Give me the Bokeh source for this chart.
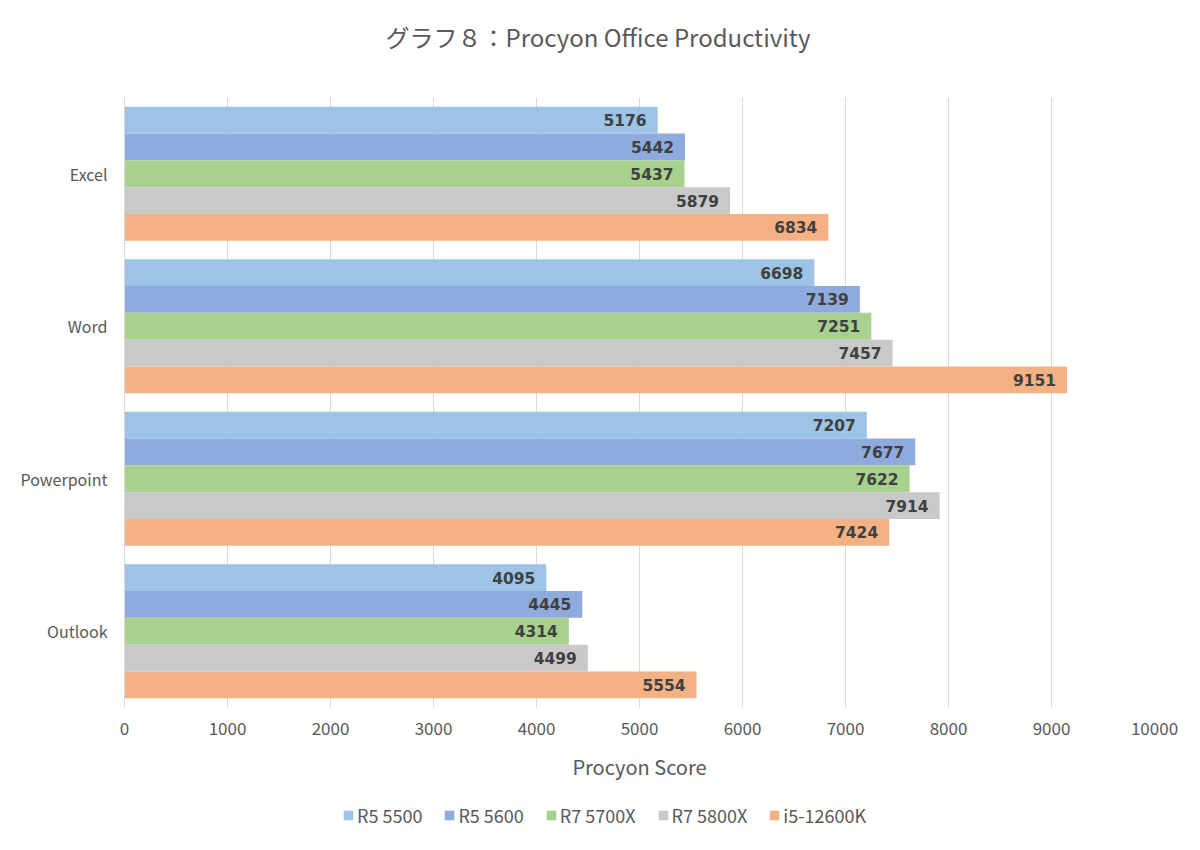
from bokeh.plotting import figure
from bokeh.layouts import column
from bokeh.models import ColumnDataSource, FactorRange, Range1d, Legend, LegendItem, FixedTicker, Label
from bokeh.transform import dodge
from bokeh.core.properties import value
from bokeh.embed import file_html
from bokeh.resources import INLINE

categories = ["Excel", "Word", "Powerpoint", "Outlook"]
series = ["R5 5500", "R5 5600", "R7 5700X", "R7 5800X", "i5-12600K"]
colors = ["#9DC3E6", "#8FAADC", "#A9D18E", "#C9C9C9", "#F4B183"]
r5_5500 = [5176, 6698, 7207, 4095]
r5_5600 = [5442, 7139, 7677, 4445]
r7_5700x = [5437, 7251, 7622, 4314]
r7_5800x = [5879, 7457, 7914, 4499]
i5_12600k = [6834, 9151, 7424, 5554]
x_ticks = [0, 1000, 2000, 3000, 4000, 5000, 6000, 7000, 8000, 9000, 10000]
title_text = "グラフ８：Procyon Office Productivity"
x_title = "Procyon Score"

values = [r5_5500, r5_5600, r7_5700x, r7_5800x, i5_12600k]
keys = ["s0", "s1", "s2", "s3", "s4"]
data = {"cat": categories}
for k, v in zip(keys, values):
    data[k] = v
    data[k + "_lbl"] = [str(x) for x in v]
src = ColumnDataSource(data)

JP = "Noto Sans CJK JP"
GRAY = "#595959"
W = 1184
HEAD_H = 97
LEG_H = 32
FRAME_L = 124
FRAME_W = 1030


def strip(h):
    # column layouts align frames, so the strip's frame spans the chart's frame columns
    f = figure(width=W, height=h, x_range=Range1d(FRAME_L, FRAME_L + FRAME_W),
               y_range=Range1d(0, h), min_border_left=FRAME_L,
               min_border_right=W - FRAME_L - FRAME_W, min_border_top=0,
               min_border_bottom=0, x_axis_location=None, y_axis_location=None,
               output_backend="svg", toolbar_location=None)
    f.grid.visible = False
    f.outline_line_color = None
    f.background_fill_color = "white"
    f.border_fill_color = "white"
    return f


# title strip
head = strip(HEAD_H)
head.add_layout(Label(x=597.5, y=HEAD_H - 36, text=title_text, text_align="center",
                      text_baseline="middle", text_font=JP, text_font_size="24px",
                      text_color=GRAY))

# main chart
p = figure(
    y_range=FactorRange(*reversed(categories)),
    x_range=Range1d(0, 10000),
    frame_width=FRAME_W, frame_height=610,
    min_border_left=FRAME_L, min_border_right=W - FRAME_L - FRAME_W,
    min_border_top=0, min_border_bottom=95,
    output_backend="svg", toolbar_location=None,
)
p.outline_line_color = None
p.background_fill_color = "white"
p.border_fill_color = "white"

bar_h = 0.176
for i, (k, col) in enumerate(zip(keys, colors)):
    off = 2 * bar_h - bar_h * i
    p.hbar(y=dodge("cat", off, range=p.y_range), left=0, right=k, height=bar_h,
           source=src, fill_color=col, line_color=None)
    p.text(x=k, y=dodge("cat", off, range=p.y_range), text=k + "_lbl", source=src,
           x_offset=-11, text_align="right", text_baseline="middle",
           text_font=value("DejaVu Sans"), text_font_style="bold",
           text_font_size="15.5px", text_color="#404040")

p.xaxis.ticker = FixedTicker(ticks=x_ticks)
p.xgrid.grid_line_color = "#D9D9D9"
p.xgrid.ticker = FixedTicker(ticks=x_ticks)
p.ygrid.grid_line_color = None
p.xaxis.axis_line_color = None
p.xaxis.major_tick_line_color = None
p.xaxis.minor_tick_line_color = None
p.xaxis.major_label_text_font = JP
p.xaxis.major_label_text_font_size = "17px"
p.xaxis.major_label_text_color = GRAY
p.xaxis.major_label_standoff = 8
p.xaxis.axis_label = x_title
p.xaxis.axis_label_text_font = JP
p.xaxis.axis_label_text_font_size = "20px"
p.xaxis.axis_label_text_font_style = "normal"
p.xaxis.axis_label_text_color = GRAY
p.xaxis.axis_label_standoff = 14

p.yaxis.axis_line_color = "#D9D9D9"
p.yaxis.major_tick_line_color = None
p.yaxis.minor_tick_line_color = None
p.yaxis.major_label_text_font = JP
p.yaxis.major_label_text_font_size = "16px"
p.yaxis.major_label_text_color = GRAY
p.yaxis.major_label_standoff = 11

# legend strip (swatches come from off-screen proxy bars)
leg = strip(LEG_H)
items = []
for name, col in zip(series, colors):
    r = leg.hbar(y=[-1000], left=[0], right=[1], height=1, fill_color=col, line_color=None)
    items.append(LegendItem(label=name, renderers=[r]))
legend = Legend(items=items, orientation="horizontal", location=(218, 6),
                border_line_color=None, background_fill_alpha=0, padding=0, margin=0,
                glyph_width=12, glyph_height=12, label_standoff=3, spacing=21,
                label_text_font=JP, label_text_font_size="18px", label_text_color=GRAY)
leg.add_layout(legend, "center")

layout = column(head, p, leg, spacing=0)

open("out.html", "w").write(file_html(layout, INLINE))
